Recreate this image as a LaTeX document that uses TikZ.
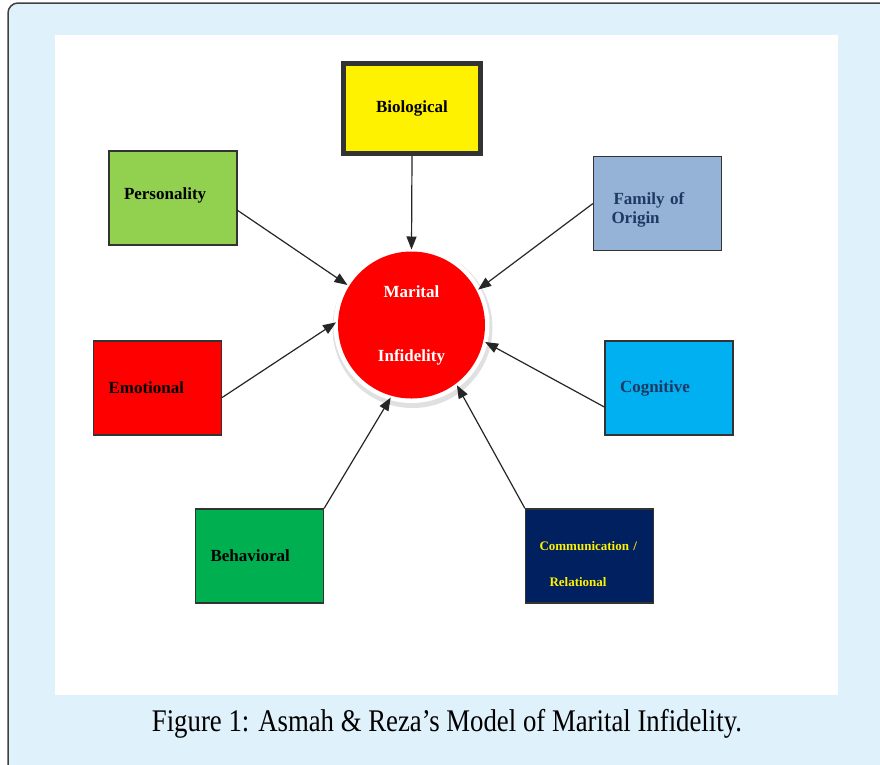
\documentclass[tikz,border=0pt]{standalone}
\usepackage{fontspec}
\setmainfont{Liberation Serif}
\usetikzlibrary{arrows.meta,calc}

\definecolor{framebg}{HTML}{DFF1FB}
\definecolor{persgreen}{HTML}{92D050}
\definecolor{famblue}{HTML}{95B3D7}
\definecolor{cogblue}{HTML}{00B0F0}
\definecolor{behgreen}{HTML}{00B050}
\definecolor{comnavy}{HTML}{002060}
\definecolor{famtext}{HTML}{1F3864}

\begin{document}
\begin{tikzpicture}
  [x=1pt,y=-1pt,
   factor/.style={rectangle,draw=black!80,line width=1.2pt,minimum width=128pt,minimum height=94pt,
     text width=98pt,inner xsep=15pt,align=left,font=\fontsize{17}{20}\selectfont\bfseries},
   arr/.style={line width=1.2pt,black!85,-{Triangle[length=13pt,width=10pt]}}]
  \useasboundingbox (0,0) rectangle (880,764);
  \clip (0,0) rectangle (880,764);

  % frame and panel
  \draw[fill=framebg,draw=black!75,line width=1.5pt,rounded corners=10pt] (8,3) rectangle (900,800);
  \fill[white] (55,35) rectangle (838,695);

  % centre
  \coordinate (c) at (411.5,325);
  \fill[black!12] ($(c)+(1,3)$) circle (80);
  \fill[white] (c) circle (78);
  \node[circle,fill=red,minimum size=147pt,outer sep=2pt,align=center,text=white,
    font=\fontsize{17}{20}\selectfont\bfseries] (mi) at (c) {Marital\\[44pt]Infidelity};

  % factors
  \node[factor,fill=yellow,line width=5pt,minimum width=137pt,minimum height=90pt,align=center] (bio) at (412,108.5) {Biological};
  \node[factor,fill=persgreen] (pers) at (173,198) {\raisebox{3pt}[\height][\depth]{Personality}};
  \node[factor,fill=famblue,text=famtext,inner xsep=18pt,text width=92pt] (fam) at (657.5,203.5)
    {\raisebox{-6pt}[\height][\depth]{\begin{tabular}{@{}l@{}}\hspace*{2pt}Family of\\[-1pt]Origin\end{tabular}}};
  \node[factor,fill=red] (emo) at (157.5,388) {Emotional};
  \node[factor,fill=cogblue,text=famtext] (cog) at (669,388) {Cognitive};
  \node[factor,fill=behgreen] (beh) at (259.5,556) {Behavioral};
  \node[factor,fill=comnavy,text=yellow,inner xsep=14pt,text width=100pt,
    font=\fontsize{13}{16}\selectfont\bfseries] (com) at (589.5,556)
    {\raisebox{-9pt}[\height][\depth]{\begin{tabular}{@{}l@{}}Communication /\\[20pt]\hspace*{10pt}Relational\end{tabular}}};

  % arrows
  \draw[arr] (bio.south) -- (mi.90);
  \draw[arr] ($(pers.north east)!0.63!(pers.south east)$) -- (mi.148);
  \draw[arr] (fam.west) -- (mi.28);
  \draw[arr] ($(emo.north east)!0.6!(emo.south east)$) -- (mi.178);
  \draw[arr] ($(cog.north west)!0.7!(cog.south west)$) -- (mi.-13);
  \draw[arr] (beh.north east) -- (mi.254);
  \draw[arr] (com.north west) -- (mi.-53);

  % caption
  \node[font=\fontsize{31.5}{36}\selectfont,xscale=0.85] (cap) at (447,724) {Figure 1: Asmah \& Reza’s Model of Marital Infidelity.};
\end{tikzpicture}
\end{document}
